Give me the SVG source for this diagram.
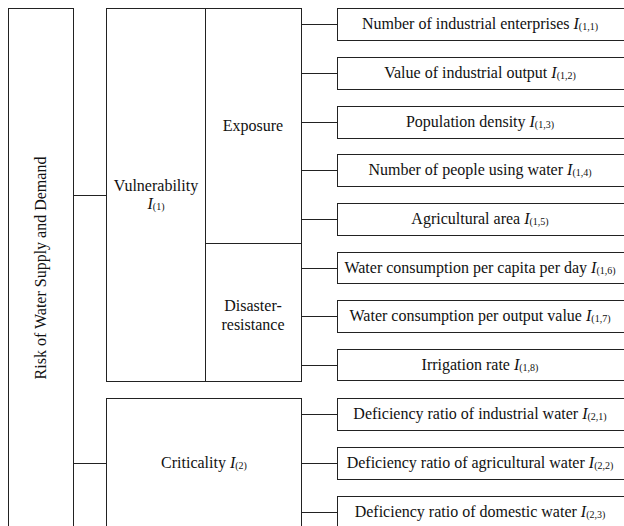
<svg xmlns="http://www.w3.org/2000/svg" width="624" height="526" viewBox="0 0 624 526" font-family="'Liberation Serif','Times New Roman',serif">
<style>
.b{fill:#fff;stroke:#222;stroke-width:1}
.c{stroke:#222;stroke-width:1;fill:none}
text{font-family:"Liberation Serif","Times New Roman",serif;font-size:16px;fill:#111;text-anchor:middle}
.i{font-style:italic}
.s{font-size:10px}
</style>
<rect width="624" height="526" fill="#fff"/>
<g id="connectors">
<path class="c" d="M73.5 195.5H106.5M73.5 463.5H106.5"/>
<path class="c" d="M301.5 24.5H337.5M301.5 73.5H337.5M301.5 122.5H337.5M301.5 170.5H337.5M301.5 219.5H337.5M301.5 268.5H337.5M301.5 316.5H337.5M301.5 365.5H337.5M301.5 414.5H337.5M301.5 463.5H337.5M301.5 512.5H337.5"/>
</g>
<g id="root">
<rect class="b" x="8.5" y="8.5" width="65" height="530"/>
<text transform="translate(46 268) rotate(-90)">Risk of Water Supply and Demand</text>
</g>
<g id="vulnerability">
<rect class="b" x="106.5" y="8.5" width="99" height="373"/>
<text x="156" y="191">Vulnerability</text>
<text x="156" y="209"><tspan class="i">I</tspan><tspan class="s" dy="1">(1)</tspan></text>
</g>
<g id="exposure">
<rect class="b" x="205.5" y="8.5" width="96" height="235"/>
<text x="253" y="131">Exposure</text>
</g>
<g id="disaster">
<rect class="b" x="205.5" y="243.5" width="96" height="138"/>
<text x="253" y="311">Disaster-</text>
<text x="253" y="330">resistance</text>
</g>
<g id="criticality">
<rect class="b" x="106.5" y="398.5" width="195" height="140"/>
<text x="204" y="468">Criticality <tspan class="i">I</tspan><tspan class="s" dy="1">(2)</tspan></text>
</g>
<g id="i11"><rect class="b" x="337.5" y="8.5" width="300" height="32"/><text x="480" y="29">Number of industrial enterprises <tspan class="i">I</tspan><tspan class="s" dy="1">(1,1)</tspan></text></g>
<g id="i12"><rect class="b" x="337.5" y="57.5" width="300" height="32"/><text x="480" y="78">Value of industrial output <tspan class="i">I</tspan><tspan class="s" dy="1">(1,2)</tspan></text></g>
<g id="i13"><rect class="b" x="337.5" y="106.5" width="300" height="32"/><text x="480" y="127">Population density <tspan class="i">I</tspan><tspan class="s" dy="1">(1,3)</tspan></text></g>
<g id="i14"><rect class="b" x="337.5" y="154.5" width="300" height="32"/><text x="480" y="175">Number of people using water <tspan class="i">I</tspan><tspan class="s" dy="1">(1,4)</tspan></text></g>
<g id="i15"><rect class="b" x="337.5" y="203.5" width="300" height="32"/><text x="480" y="224">Agricultural area <tspan class="i">I</tspan><tspan class="s" dy="1">(1,5)</tspan></text></g>
<g id="i16"><rect class="b" x="337.5" y="252.5" width="300" height="31"/><text x="480" y="273">Water consumption per capita per day <tspan class="i">I</tspan><tspan class="s" dy="1">(1,6)</tspan></text></g>
<g id="i17"><rect class="b" x="337.5" y="300.5" width="300" height="32"/><text x="480" y="321">Water consumption per output value <tspan class="i">I</tspan><tspan class="s" dy="1">(1,7)</tspan></text></g>
<g id="i18"><rect class="b" x="337.5" y="349.5" width="300" height="31"/><text x="480" y="370">Irrigation rate <tspan class="i">I</tspan><tspan class="s" dy="1">(1,8)</tspan></text></g>
<g id="i21"><rect class="b" x="337.5" y="398.5" width="300" height="32"/><text x="480" y="419">Deficiency ratio of industrial water <tspan class="i">I</tspan><tspan class="s" dy="1">(2,1)</tspan></text></g>
<g id="i22"><rect class="b" x="337.5" y="447.5" width="300" height="32"/><text x="480" y="468">Deficiency ratio of agricultural water <tspan class="i">I</tspan><tspan class="s" dy="1">(2,2)</tspan></text></g>
<g id="i23"><rect class="b" x="337.5" y="496.5" width="300" height="32"/><text x="480" y="517">Deficiency ratio of domestic water <tspan class="i">I</tspan><tspan class="s" dy="1">(2,3)</tspan></text></g>
</svg>
